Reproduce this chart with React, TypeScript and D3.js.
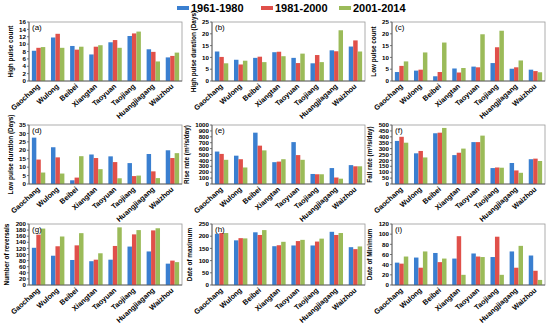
import React from 'react';
import * as d3 from 'd3';

const categories = ['Gaochang', 'Wulong', 'Beibei', 'Xiangtan', 'Taoyuan', 'Taojiang', 'Huangjiagang', 'Waizhou'];
const periods = ['1961-1980', '1981-2000', '2001-2014'];
const colors = ['#3a7fd0', '#e0504a', '#9bbb59'];

// each panel: one row per period, one value per station
const highPulseCount = [
  [8.2, 11.8, 9.5, 7.2, 10.5, 12.2, 8.6, 6.4],
  [9.0, 12.8, 8.5, 9.3, 11.1, 12.9, 7.9, 6.8],
  [9.2, 9.0, 9.3, 9.7, 9.0, 13.4, 5.3, 7.7],
];
const highPulseDuration = [
  [12.5, 9.0, 9.8, 12.2, 9.8, 7.5, 13.0, 14.6],
  [10.2, 7.0, 10.3, 12.4, 7.6, 11.0, 12.6, 17.2],
  [7.5, 8.6, 8.0, 10.5, 11.6, 8.0, 21.5, 12.5],
];
const lowPulseCount = [
  [3.8, 4.4, 2.0, 5.3, 6.1, 7.6, 5.2, 4.8],
  [6.4, 4.8, 3.8, 3.6, 5.8, 14.3, 5.8, 4.2],
  [8.3, 12.1, 16.3, 5.5, 19.8, 21.3, 8.7, 3.7],
];
const lowPulseDuration = [
  [27.5, 21.8, 2.2, 17.5, 16.4, 12.4, 17.8, 20.0],
  [14.5, 15.8, 3.8, 15.4, 13.0, 4.7, 7.5, 15.4],
  [6.8, 6.2, 16.5, 8.8, 3.4, 5.0, 3.5, 18.3],
];
const riseRate = [
  [550, 480, 870, 370, 710, 170, 270, 320],
  [510, 420, 650, 380, 490, 165, 110, 300],
  [410, 280, 570, 420, 410, 165, 90, 300],
];
const fallRate = [
  [365, 260, 430, 245, 355, 135, 178, 210],
  [400, 280, 435, 265, 355, 140, 115, 215],
  [350, 225, 475, 300, 410, 138, 95, 195],
];
const reversals = [
  [122, 96, 82, 78, 83, 126, 110, 70],
  [165, 127, 130, 83, 128, 166, 179, 80],
  [185, 159, 170, 104, 189, 180, 186, 75],
];
const dateOfMaximum = [
  [210, 183, 216, 159, 162, 162, 218, 155],
  [213, 192, 205, 163, 180, 178, 205, 147],
  [213, 191, 225, 177, 185, 190, 213, 158],
];
const dateOfMinimum = [
  [44, 54, 63, 52, 62, 55, 66, 58],
  [42, 34, 45, 96, 56, 95, 34, 28],
  [56, 66, 52, 20, 55, 20, 77, 10],
];

const panels = [
  { tag: '(a)', title: 'High pulse count', data: highPulseCount, max: 16, step: 2 },
  { tag: '(b)', title: 'High pulse duration (Days)', data: highPulseDuration, max: 25, step: 5 },
  { tag: '(c)', title: 'Low pulse count', data: lowPulseCount, max: 25, step: 5 },
  { tag: '(d)', title: 'Low pulse duration (Days)', data: lowPulseDuration, max: 35, step: 5 },
  { tag: '(e)', title: 'Rise rate (m\u00b3/s/day)', data: riseRate, max: 1000, step: 100 },
  { tag: '(f)', title: 'Fall rate (m\u00b3/s/day)', data: fallRate, max: 500, step: 50 },
  { tag: '(g)', title: 'Number of reversals', data: reversals, max: 200, step: 20 },
  { tag: '(h)', title: 'Date of maximum', data: dateOfMaximum, max: 250, step: 50 },
  { tag: '(i)', title: 'Date of Minimum', data: dateOfMinimum, max: 120, step: 20 },
];

const colX = [[29, 182], [212, 365], [392, 545]];
const rowY = [[22, 81], [125, 184], [224, 285]];
const font = 'Liberation Sans, Arial, sans-serif';

const Panel: React.FC<{ p: typeof panels[number]; col: number; row: number }> = ({ p, col, row }) => {
  const [x0, x1] = colX[col];
  const [y0, y1] = rowY[row];
  const x = d3.scaleBand<string>().domain(categories).range([x0, x1]).paddingInner(0.3).paddingOuter(0.15);
  const sub = d3.scaleBand<number>().domain([0, 1, 2]).range([0, x.bandwidth()]);
  const y = d3.scaleLinear().domain([0, p.max]).range([y1, y0]);
  const ticks = d3.range(0, p.max + p.step / 2, p.step);
  const maxLabel = d3.max(ticks, t => String(t).length) || 1;
  const titleX = x0 - maxLabel * 3.6 - 9;
  return (
    <g>
      <rect x={x0} y={y0} width={x1 - x0} height={y1 - y0} fill="white" stroke="#9a9a9a" strokeWidth={0.8} />
      {p.data.map((series, si) =>
        series.map((v, ci) => (
          <rect key={`${si}-${ci}`} x={(x(categories[ci]) ?? 0) + (sub(si) ?? 0)} y={y(v)}
            width={sub.bandwidth()} height={y1 - y(v)} fill={colors[si]} />
        ))
      )}
      <line x1={x0} x2={x0} y1={y0} y2={y1} stroke="#555" strokeWidth={0.8} />
      <line x1={x0} x2={x1} y1={y1} y2={y1} stroke="#555" strokeWidth={0.8} />
      {ticks.map(t => (
        <g key={t}>
          <line x1={x0 - 2} x2={x0} y1={y(t)} y2={y(t)} stroke="#555" strokeWidth={0.8} />
          <text x={x0 - 3} y={y(t)} dy="0.35em" textAnchor="end" fontSize={6.2} fontWeight="bold" fontFamily={font}>{t}</text>
        </g>
      ))}
      {categories.map(c => {
        const cx = (x(c) ?? 0) + x.bandwidth() / 2;
        return (
          <text key={c} transform={`translate(${cx},${y1 + 4}) rotate(-42)`} textAnchor="end" dy="0.35em"
            fontSize={7.3} fontWeight="bold" fontFamily={font}>{c}</text>
        );
      })}
      <text transform={`translate(${titleX},${(y0 + y1) / 2}) rotate(-90)`} textAnchor="middle"
        fontSize={6.4} fontWeight="bold" fontFamily={font}>{p.title}</text>
      <text x={x0 + 3} y={y0 + 8} fontSize={8} fontFamily={font}>{p.tag}</text>
    </g>
  );
};

const legendX = [177, 261, 339];

export default function App() {
  return (
    <svg width={550} height={325} style={{ position: 'absolute', left: 0, top: 0, background: 'white' }}>
      {periods.map((name, i) => (
        <g key={name}>
          <rect x={legendX[i]} y={6} width={12} height={4} fill={colors[i]} />
          <text x={legendX[i] + 14} y={8} dy="0.35em" fontSize={11} fontWeight="bold" fontFamily={font}>{name}</text>
        </g>
      ))}
      {panels.map((p, i) => (
        <Panel key={p.tag} p={p} col={i % 3} row={Math.floor(i / 3)} />
      ))}
    </svg>
  );
}
